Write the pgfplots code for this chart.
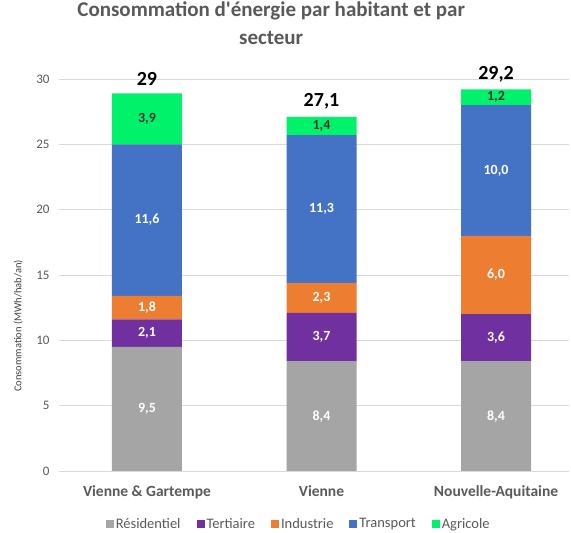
\documentclass[border=0pt]{standalone}
\usepackage{fontspec}
\setmainfont{Carlito}
\usepackage{pgfplots}
\pgfplotsset{compat=1.18}

\definecolor{cres}{HTML}{A5A5A5}
\definecolor{ctert}{HTML}{7030A0}
\definecolor{cind}{HTML}{ED7D31}
\definecolor{ctra}{HTML}{4472C4}
\definecolor{cagr}{HTML}{00F26B}
\definecolor{txt}{HTML}{595959}
\definecolor{gridc}{HTML}{D9D9D9}

% same frame for the bars and for the label layer
\pgfplotsset{
  frame/.style={
    at={(59pt,62pt)}, anchor=south west, scale only axis,
    width=510pt, height=392pt,
    xmin=-0.504, xmax=2.418, ymin=0, ymax=30, clip=false,
  },
}

\begin{document}
\begin{tikzpicture}
\useasboundingbox (0,0) rectangle (571pt,533pt);
\begin{axis}[frame, ybar stacked, bar width=70pt,
  axis x line*=bottom, axis y line*=left,
  x axis line style={draw=gridc}, y axis line style={draw=none},
  major tick length=0pt,
  xtick={0,1,2}, xticklabels={Vienne \& Gartempe, Vienne, Nouvelle-Aquitaine},
  xticklabel style={font=\fontsize{15.5}{17}\selectfont\bfseries, text=txt, yshift=-11pt},
  ytick={0,5,...,30},
  yticklabel style={font=\fontsize{13}{15}\selectfont, text=txt, xshift=-6pt},
  /pgf/number format/assume math mode=true,
  ymajorgrids, grid style={draw=gridc, line width=0.8pt},
  ylabel={Consommation (MWh/hab/an)},
  ylabel style={font=\fontsize{10.5}{12}\selectfont, text=black!75,
    at={(axis description cs:-0.08,0.37)}, anchor=center},
  title={Consommation d\textquotesingle énergie par habitant et par\\secteur},
  title style={font=\fontsize{21}{28}\selectfont\bfseries, text=txt, align=center,
    at={(axis description cs:0.416,1)}, anchor=north, yshift=71pt, inner sep=0pt},
  legend style={at={(axis description cs:0.47,0)}, anchor=center, yshift=-53pt,
    draw=none, fill=none, font=\fontsize{14.5}{16}\selectfont, text=txt,
    /tikz/every even column/.append style={column sep=14pt}},
  legend columns=5,
  legend image code/.code={\fill[#1] (0pt,-4pt) rectangle (8pt,4pt);},
]
\addplot[fill=cres, draw=none] coordinates {(0,9.5) (1,8.4) (2,8.4)};
\addplot[fill=ctert, draw=none] coordinates {(0,2.1) (1,3.7) (2,3.6)};
\addplot[fill=cind, draw=none] coordinates {(0,1.8) (1,2.3) (2,6.0)};
\addplot[fill=ctra, draw=none] coordinates {(0,11.6) (1,11.3) (2,10.0)};
\addplot[fill=cagr, draw=none] coordinates {(0,3.9) (1,1.4) (2,1.2)};
\legend{Résidentiel, Tertiaire, Industrie, Transport, Agricole}
\end{axis}

% labels, at the middle of each segment and on top of each bar
\begin{axis}[frame, hide axis, nodes near coords, point meta=explicit symbolic,
  every node near coord/.append style={anchor=center, font=\fontsize{14}{16}\selectfont\bfseries},
]
\addplot[draw=none, nodes near coords style={text=white}] coordinates {
  (0,4.75) [9{,}5] (1,4.2) [8{,}4] (2,4.2) [8{,}4]
  (0,10.55) [2{,}1] (1,10.25) [3{,}7] (2,10.2) [3{,}6]
  (0,12.5) [1{,}8] (1,13.25) [2{,}3] (2,15.0) [6{,}0]
  (0,19.2) [11{,}6] (1,20.05) [11{,}3] (2,23.0) [10{,}0]};
\addplot[draw=none, nodes near coords style={text=black!80}] coordinates {
  (0,26.95) [3{,}9] (1,26.4) [1{,}4] (2,28.6) [1{,}2]};
\addplot[draw=none, nodes near coords style={anchor=south, text=black,
  font=\fontsize{20}{24}\selectfont\bfseries, yshift=4pt}] coordinates {
  (0,28.9) [29] (1,27.1) [27{,}1] (2,29.2) [29{,}2]};
\end{axis}
\end{tikzpicture}
\end{document}
